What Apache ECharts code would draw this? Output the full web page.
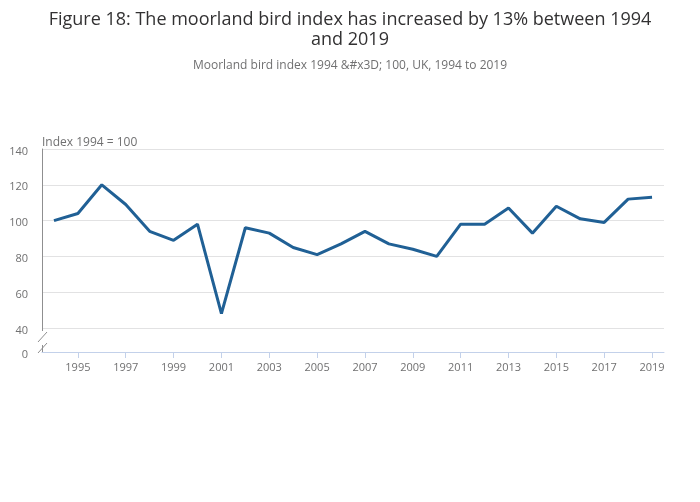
<!DOCTYPE html>
<html>
<head>
<meta charset="utf-8">
<script src="https://cdn.jsdelivr.net/npm/echarts@6/dist/echarts.min.js"></script>
<style>
html,body{margin:0;padding:0;background:#fff;}
#chart{width:700px;height:502px;}
</style>
</head>
<body>
<div id="chart"></div>
<script>
const years = ['1994','1995','1996','1997','1998','1999','2000','2001','2002','2003','2004','2005','2006','2007','2008','2009','2010','2011','2012','2013','2014','2015','2016','2017','2018','2019'];
const moorlandIndex = [100,104,120,109,94,89,98,48,96,93,85,81,87,94,87,84,80,98,98,107,93,108,101,99,112,113];
const yTickValues = [40,60,80,100,120,140];
const yBreakValue = 26.6;

const FONT = '"Open Sans", "Noto Sans", sans-serif';
const chart = echarts.init(document.getElementById('chart'));
chart.setOption({
  animation: false,
  backgroundColor: '#fff',
  textStyle: {fontFamily: FONT},
  title: {
    text: 'Figure 18: The moorland bird index has increased by 13% between 1994\nand 2019',
    subtext: 'Moorland bird index 1994 &#x3D; 100, UK, 1994 to 2019',
    left: 'center',
    top: 5,
    itemGap: 10,
    textStyle: {fontFamily: FONT, fontSize: 18, fontWeight: 'normal', color: '#323132', lineHeight: 20},
    subtextStyle: {fontFamily: FONT, fontSize: 12, color: '#707071'}
  },
  grid: {left: 42, right: 36, top: 149, bottom: 150, containLabel: false},
  xAxis: {
    type: 'category',
    data: years,
    boundaryGap: true,
    axisLine: {show: true, lineStyle: {color: '#c3d1ea', width: 1}},
    axisTick: {show: true, alignWithLabel: true, length: 6, lineStyle: {color: '#c3d1ea'},
      interval: (i, v) => Number(v) % 2 === 1},
    axisLabel: {color: '#707071', fontSize: 11, margin: 10, fontFamily: FONT,
      interval: (i, v) => Number(v) % 2 === 1},
    splitLine: {show: false}
  },
  yAxis: {
    type: 'value',
    min: yBreakValue,
    max: 140,
    name: 'Index 1994 = 100',
    nameLocation: 'end',
    nameGap: 0,
    nameTextStyle: {color: '#707071', fontSize: 12, align: 'left', fontFamily: FONT},
    axisLine: {show: true, lineStyle: {color: '#8f8f90', width: 1}},
    axisTick: {show: false, customValues: yTickValues},
    axisLabel: {color: '#707071', fontSize: 11, margin: 14, fontFamily: FONT,
      customValues: [yBreakValue].concat(yTickValues),
      formatter: v => '{a|' + (v < 30 ? '0' : String(Math.round(v))) + '}',
      rich: {a: {color: '#707071', fontSize: 11, fontFamily: FONT, padding: [5, 0, 0, 0]}}},
    splitLine: {show: true, lineStyle: {color: '#e2e2e3', width: 1}}
  },
  series: [{
    type: 'line',
    data: moorlandIndex,
    symbol: 'none',
    lineStyle: {color: '#206095', width: 3},
    itemStyle: {color: '#206095'}
  }]
});

// axis break decoration derived from the y scale
const x0 = chart.convertToPixel({xAxisIndex: 0}, 0) - (chart.convertToPixel({xAxisIndex: 0}, 1) - chart.convertToPixel({xAxisIndex: 0}, 0)) / 2;
const p40 = chart.convertToPixel({yAxisIndex: 0}, yTickValues[0]);
const pMin = chart.convertToPixel({yAxisIndex: 0}, yBreakValue);
const ax = Math.round(x0) + 0.5;
chart.setOption({
  graphic: [
    {type: 'rect', shape: {x: ax - 6, y: p40 + 3, width: 12, height: (pMin - p40) - 10}, style: {fill: '#fff'}, z: 100},
    {type: 'line', shape: {x1: ax - 4.5, y1: p40 + 14, x2: ax + 4.5, y2: p40 + 4}, style: {stroke: '#8f8f90', lineWidth: 1}, z: 101},
    {type: 'line', shape: {x1: ax - 4.5, y1: p40 + 25, x2: ax + 4.5, y2: p40 + 15}, style: {stroke: '#8f8f90', lineWidth: 1}, z: 101}
  ]
});
</script>
</body>
</html>
